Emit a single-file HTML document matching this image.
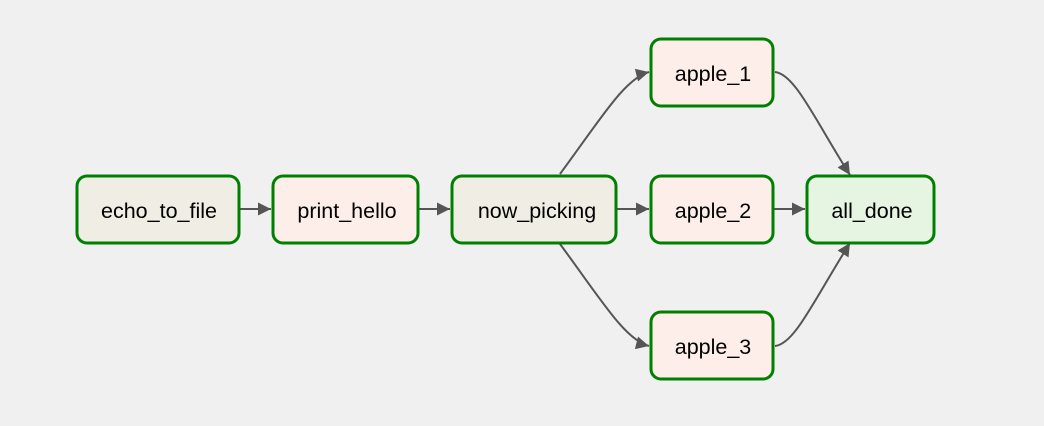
<!DOCTYPE html>
<html><head><style>
body{margin:0;background:#f0f0f0;}
svg{display:block}
text{font-family:"Liberation Sans",Arial,sans-serif;font-size:21.5px;fill:#000;text-anchor:middle;dominant-baseline:central}
.n{stroke:#008000;stroke-width:3}
.e{fill:none;stroke:#555;stroke-width:2}
</style></head><body>
<svg width="1044" height="426" viewBox="0 0 1044 426">
<defs><marker id="a" viewBox="0 0 10 10" refX="10" refY="5" markerWidth="6.5" markerHeight="6.5" markerUnits="strokeWidth" orient="auto"><path d="M0,0L10,5L0,10z" fill="#555"/></marker></defs>
<path class="e" marker-end="url(#a)" d="M240,209H271"/>
<path class="e" marker-end="url(#a)" d="M419,209H450"/>
<path class="e" marker-end="url(#a)" d="M617,209H649"/>
<path class="e" marker-end="url(#a)" d="M774,209H805"/>
<path class="e" marker-end="url(#a)" d="M560,174C600,120 625,78 649,72"/>
<path class="e" marker-end="url(#a)" d="M560,244C600,298 625,340 649,346"/>
<path class="e" marker-end="url(#a)" d="M775,72C795,74 815,120 850,175"/>
<path class="e" marker-end="url(#a)" d="M775,346C795,344 815,298 850,243"/>
<rect class="n" x="77" y="176" width="162" height="67" rx="10" fill="#f0ede4"/>
<rect class="n" x="273" y="176" width="145" height="67" rx="10" fill="#fdeee9"/>
<rect class="n" x="452" y="176" width="164" height="67" rx="10" fill="#f0ede4"/>
<rect class="n" x="651" y="39" width="122" height="67" rx="10" fill="#fdeee9"/>
<rect class="n" x="651" y="176" width="122" height="67" rx="10" fill="#fdeee9"/>
<rect class="n" x="651" y="312" width="122" height="67" rx="10" fill="#fdeee9"/>
<rect class="n" x="807" y="176" width="127" height="67" rx="10" fill="#e6f5e1"/>
<text x="159" y="211">echo_to_file</text>
<text x="347" y="211">print_hello</text>
<text x="537" y="211">now_picking</text>
<text x="713" y="74">apple_1</text>
<text x="713" y="211">apple_2</text>
<text x="713" y="347">apple_3</text>
<text x="872" y="211">all_done</text>
</svg>
</body></html>
